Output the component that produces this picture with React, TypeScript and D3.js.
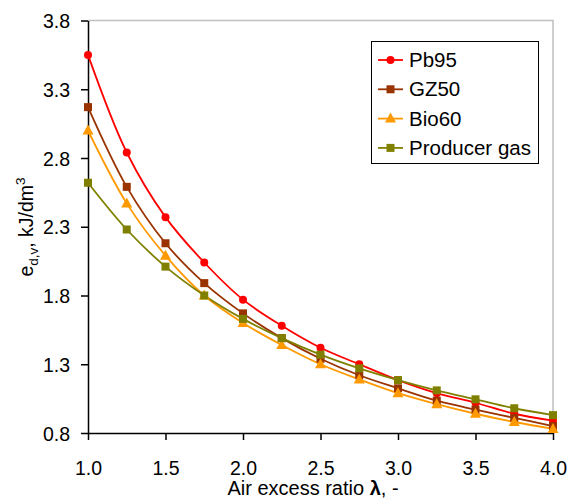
import React, { useRef, useEffect } from 'react'
import * as d3 from 'd3'

const lambdas = [1.0, 1.25, 1.5, 1.75, 2.0, 2.25, 2.5, 2.75, 3.0, 3.25, 3.5, 3.75, 4.0]
const pb95 = [3.55, 2.84, 2.37, 2.04, 1.77, 1.58, 1.42, 1.30, 1.185, 1.09, 1.02, 0.94, 0.89]
const gz50 = [3.17, 2.59, 2.18, 1.89, 1.67, 1.49, 1.34, 1.22, 1.125, 1.035, 0.97, 0.91, 0.85]
const bio60 = [3.0, 2.47, 2.09, 1.80, 1.60, 1.44, 1.30, 1.19, 1.09, 1.01, 0.94, 0.88, 0.83]
const producerGas = [2.62, 2.28, 2.01, 1.80, 1.63, 1.49, 1.37, 1.27, 1.185, 1.11, 1.045, 0.98, 0.93]
const xTicks = [1.0, 1.5, 2.0, 2.5, 3.0, 3.5, 4.0]
const yTicks = [0.8, 1.3, 1.8, 2.3, 2.8, 3.3, 3.8]

const series = [
  { name: 'Pb95', values: pb95, color: '#FF0000', marker: 'circle' },
  { name: 'GZ50', values: gz50, color: '#993300', marker: 'square' },
  { name: 'Bio60', values: bio60, color: '#FF9900', marker: 'triangle' },
  { name: 'Producer gas', values: producerGas, color: '#808000', marker: 'square' },
]

function drawMarker(g: any, type: string, x: number, y: number, color: string) {
  if (type === 'circle') {
    g.append('circle').attr('cx', x).attr('cy', y).attr('r', 4).attr('fill', color)
  } else if (type === 'square') {
    g.append('rect').attr('x', x - 4).attr('y', y - 4).attr('width', 8).attr('height', 8).attr('fill', color)
  } else {
    g.append('path').attr('d', `M${x},${y - 6}L${x + 5.5},${y + 4}L${x - 5.5},${y + 4}Z`).attr('fill', color)
  }
}

function App() {
  const ref = useRef<SVGSVGElement>(null)

  useEffect(() => {
    const svg = d3.select(ref.current)
    svg.selectAll('*').remove()
    const font = 'Liberation Sans, Arial, sans-serif'

    const x = d3.scaleLinear().domain([1, 4]).range([88, 553])
    const y = d3.scaleLinear().domain([0.8, 3.8]).range([433, 20.5])

    // gray top/right frame
    svg.append('path')
      .attr('d', `M${x(1)},${y(3.8)}H${x(4)}V${y(0.8)}`)
      .attr('fill', 'none').attr('stroke', '#c0c0c0').attr('stroke-width', 1.5)

    const xAxis = svg.append('g').attr('transform', `translate(0,${y(0.8)})`)
      .call(d3.axisBottom(x).tickValues(xTicks).tickFormat(d3.format('.1f')).tickSize(7).tickSizeOuter(0))
    const yAxis = svg.append('g').attr('transform', `translate(${x(1)},0)`)
      .call(d3.axisLeft(y).tickValues(yTicks).tickFormat(d3.format('.1f')).tickSize(7).tickSizeOuter(0))
    ;[xAxis, yAxis].forEach(a => {
      a.selectAll('path,line').attr('stroke', '#000').attr('stroke-width', 1.5)
      a.selectAll('text').attr('font-family', font).attr('font-size', 19.5).attr('fill', '#000')
    })
    xAxis.selectAll('text').attr('y', 42).attr('dy', 0)
    yAxis.selectAll('text').attr('x', -18).attr('dy', '0.36em')

    const line = d3.line<number>()
      .x((d, i) => x(lambdas[i]))
      .y(d => y(d))
      .curve(d3.curveCatmullRom.alpha(0.5))

    series.forEach(s => {
      svg.append('path').datum(s.values).attr('d', line)
        .attr('fill', 'none').attr('stroke', s.color).attr('stroke-width', 1.8)
    })
    series.forEach(s => {
      const g = svg.append('g')
      s.values.forEach((v, i) => drawMarker(g, s.marker, x(lambdas[i]), y(v), s.color))
    })

    // legend
    const lg = svg.append('g')
    lg.append('rect').attr('x', 371.5).attr('y', 41.5).attr('width', 167).attr('height', 122)
      .attr('fill', '#fff').attr('stroke', '#000').attr('stroke-width', 1)
    series.forEach((s, i) => {
      const cy = 60 + i * 29.3
      lg.append('line').attr('x1', 378).attr('x2', 403).attr('y1', cy).attr('y2', cy)
        .attr('stroke', s.color).attr('stroke-width', 1.8)
      drawMarker(lg, s.marker, 390.5, cy, s.color)
      lg.append('text').attr('x', 409).attr('y', cy + 7).text(s.name)
        .attr('font-family', font).attr('font-size', 20.5).attr('fill', '#000')
    })

    // axis titles
    const xt = svg.append('text').attr('x', 313).attr('y', 495).attr('text-anchor', 'middle')
      .attr('font-family', font).attr('font-size', 20).attr('fill', '#000')
    xt.append('tspan').text('Air excess ratio ')
    xt.append('tspan').text('λ').attr('font-weight', 'bold')
    xt.append('tspan').text(', -')

    const yt = svg.append('text').attr('transform', 'translate(33,227) rotate(-90)').attr('text-anchor', 'middle')
      .attr('font-family', font).attr('font-size', 19.5).attr('fill', '#000')
    yt.append('tspan').text('e')
    yt.append('tspan').text('d,v').attr('font-size', 13.5).attr('dy', 5)
    yt.append('tspan').text(', kJ/dm').attr('dy', -5)
    yt.append('tspan').text('3').attr('font-size', 13.5).attr('dy', -8)
  }, [])

  return (
    <svg ref={ref} width={571} height={501} style={{ position: 'absolute', left: 0, top: 0 }} />
  )
}

export default App
